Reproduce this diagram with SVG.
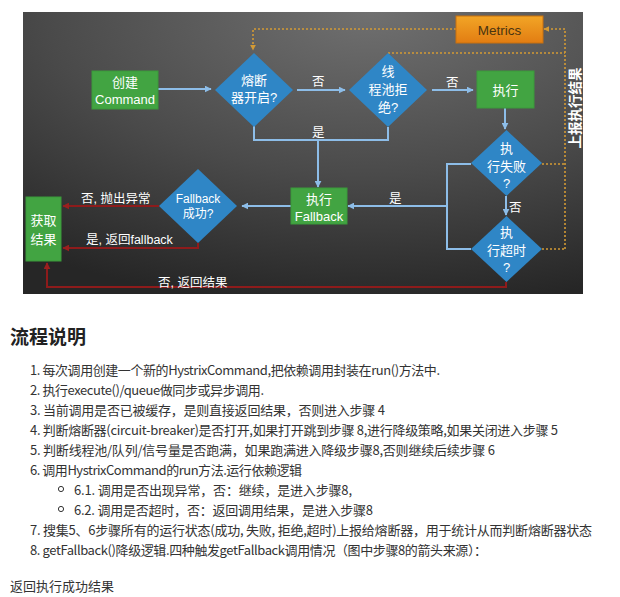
<svg xmlns="http://www.w3.org/2000/svg" width="620" height="597" viewBox="0 0 620 597">
<defs>
<radialGradient id="bg" cx="0.62" cy="0" r="1.05" gradientUnits="objectBoundingBox">
<stop offset="0" stop-color="#707070"/>
<stop offset="0.55" stop-color="#4a4a4a"/>
<stop offset="1" stop-color="#262626"/>
</radialGradient>
<linearGradient id="org" x1="0" y1="0" x2="0" y2="1">
<stop offset="0" stop-color="#f2a526"/>
<stop offset="1" stop-color="#e27d12"/>
</linearGradient>
<marker id="ab" viewBox="0 0 10 10" refX="9" refY="5" markerWidth="7" markerHeight="7" markerUnits="userSpaceOnUse" orient="auto">
<path d="M0,0 L10,5 L0,10 z" fill="#8dbde8"/>
</marker>
<marker id="ar" viewBox="0 0 10 10" refX="9" refY="5" markerWidth="7" markerHeight="7" markerUnits="userSpaceOnUse" orient="auto">
<path d="M0,0 L10,5 L0,10 z" fill="#9a1f1f"/>
</marker>
<marker id="ao" viewBox="0 0 10 10" refX="9" refY="5" markerWidth="6" markerHeight="6" markerUnits="userSpaceOnUse" orient="auto">
<path d="M0,0 L10,5 L0,10 z" fill="#d39a35"/>
</marker>
</defs>
<style>
.g{fill:#42a442;stroke:#3a9a3a;stroke-width:1}
.d{fill:#2f86c6}
.t{font-family:"Liberation Sans","Noto Sans CJK SC",sans-serif;font-size:13px;fill:#ffffff;text-anchor:middle;dominant-baseline:central}
.lb{font-family:"Liberation Sans","Noto Sans CJK SC",sans-serif;font-size:12.5px;fill:#ffffff;dominant-baseline:central}
.bl{fill:none;stroke:#8dbde8;stroke-width:2}
.rd{fill:none;stroke:#8e1b1b;stroke-width:2}
.dt{fill:none;stroke:#d39a35;stroke-width:1.6;stroke-dasharray:2 2}
.b{font-family:"Noto Sans CJK SC",sans-serif;font-size:13px;fill:#333333;dominant-baseline:central}
.h{font-family:"Noto Sans CJK SC",sans-serif;font-size:19px;font-weight:bold;fill:#222222;dominant-baseline:central}
</style>
<rect x="23" y="12" width="560" height="282" fill="url(#bg)"/>
<g id="connectors">
<path class="dt" d="M456,29 H253 V50" marker-end="url(#ao)"/>
<path class="dt" d="M388,53 H565"/>
<path class="dt" d="M542,164 H565 M542,249 H565 M565,249 V29"/>
<path class="dt" d="M565,29 H544" marker-end="url(#ao)"/>
<path class="bl" d="M158,89 H211" marker-end="url(#ab)"/>
<path class="bl" d="M297,90 H345" marker-end="url(#ab)"/>
<path class="bl" d="M432,90 H473" marker-end="url(#ab)"/>
<path class="bl" d="M505,108 V129" marker-end="url(#ab)"/>
<path class="bl" d="M506,196 V215" marker-end="url(#ab)"/>
<path class="bl" d="M254,126 V140 H388 V127"/>
<path class="bl" d="M318,140 V187" marker-end="url(#ab)"/>
<path class="bl" d="M471,164 H447 V249 H471"/>
<path class="bl" d="M447,206 H348" marker-end="url(#ab)"/>
<path class="bl" d="M291,206 H242" marker-end="url(#ab)"/>
<path class="rd" d="M159,206 H63" marker-end="url(#ar)"/>
<path class="rd" d="M198,243 V248 H63" marker-end="url(#ar)"/>
<path class="rd" d="M506,282 V287 H47 V263" marker-end="url(#ar)"/>
<text class="lb" x="312" y="82">否</text>
<text class="lb" x="446" y="83">否</text>
<text class="lb" x="312" y="133">是</text>
<text class="lb" x="389" y="199">是</text>
<text class="lb" x="509" y="208">否</text>
<text class="lb" x="81" y="199">否, 抛出异常</text>
<text class="lb" x="86" y="240">是, 返回fallback</text>
<text class="lb" x="158" y="283">否, 返回结果</text>
<text class="lb" transform="translate(575,108) rotate(-90)" text-anchor="middle" style="font-size:13.5px;font-weight:bold">上报执行结果</text>
</g>
<g id="create">
<rect class="g" x="92" y="71" width="66" height="38"/>
<text class="t" x="125" y="82">创建</text>
<text class="t" x="125" y="99">Command</text>
</g>
<g id="breaker">
<polygon class="d" points="254,53 293,90 254,127 215,90"/>
<text class="t" x="254" y="80">熔断</text>
<text class="t" x="254" y="97">器开启?</text>
</g>
<g id="pool">
<polygon class="d" points="388,53 427,90 388,127 349,90"/>
<text class="t" x="388" y="71">线</text>
<text class="t" x="388" y="89">程池拒</text>
<text class="t" x="388" y="107">绝?</text>
</g>
<g id="metrics">
<rect x="456" y="16" width="87" height="27" fill="url(#org)" stroke="#c8700f" stroke-width="1"/>
<text class="t" x="499.5" y="30" style="fill:#4a3410;font-size:13.5px">Metrics</text>
</g>
<g id="exec">
<rect class="g" x="477" y="71" width="57" height="37"/>
<text class="t" x="505.5" y="90">执行</text>
</g>
<g id="fail">
<polygon class="d" points="506.5,130 542,163 506.5,196 471,163"/>
<text class="t" x="506.5" y="148">执</text>
<text class="t" x="506.5" y="166">行失败</text>
<text class="t" x="506.5" y="183">?</text>
</g>
<g id="timeout">
<polygon class="d" points="506.5,216 542,249 506.5,282 471,249"/>
<text class="t" x="506.5" y="232">执</text>
<text class="t" x="506.5" y="250">行超时</text>
<text class="t" x="506.5" y="267">?</text>
</g>
<g id="fallback">
<rect class="g" x="291" y="188" width="56" height="36"/>
<text class="t" x="319" y="199">执行</text>
<text class="t" x="319" y="216">Fallback</text>
</g>
<g id="fbok">
<polygon class="d" points="198,169 237,206 198,243 159,206"/>
<text class="t" x="198" y="199" style="font-size:12px">Fallback</text>
<text class="t" x="198" y="214" style="font-size:12px">成功?</text>
</g>
<g id="result">
<rect class="g" x="26" y="197" width="35" height="64"/>
<text class="t" x="43.5" y="220">获取</text>
<text class="t" x="43.5" y="239">结果</text>
</g>
<g id="notes">
<text class="h" x="10" y="335">流程说明</text>
<text class="b" x="30" y="369" textLength="410" lengthAdjust="spacing">1. 每次调用创建一个新的HystrixCommand,把依赖调用封装在run()方法中.</text>
<text class="b" x="30" y="389" textLength="234" lengthAdjust="spacing">2. 执行execute()/queue做同步或异步调用.</text>
<text class="b" x="30" y="409" textLength="355" lengthAdjust="spacing">3. 当前调用是否已被缓存，是则直接返回结果，否则进入步骤 4</text>
<text class="b" x="30" y="429" textLength="528" lengthAdjust="spacing">4. 判断熔断器(circuit-breaker)是否打开,如果打开跳到步骤 8,进行降级策略,如果关闭进入步骤 5</text>
<text class="b" x="30" y="449" textLength="465" lengthAdjust="spacing">5. 判断线程池/队列/信号量是否跑满，如果跑满进入降级步骤8,否则继续后续步骤 6</text>
<text class="b" x="30" y="469" textLength="272" lengthAdjust="spacing">6. 调用HystrixCommand的run方法.运行依赖逻辑</text>
<circle cx="61" cy="489" r="2.6" fill="none" stroke="#333333" stroke-width="1"/>
<text class="b" x="74" y="489" textLength="278" lengthAdjust="spacing">6.1. 调用是否出现异常，否：继续，是进入步骤8,</text>
<circle cx="61" cy="509" r="2.6" fill="none" stroke="#333333" stroke-width="1"/>
<text class="b" x="74" y="509" textLength="299" lengthAdjust="spacing">6.2. 调用是否超时，否：返回调用结果，是进入步骤8</text>
<text class="b" x="30" y="529" textLength="562" lengthAdjust="spacing">7. 搜集5、6步骤所有的运行状态(成功, 失败, 拒绝,超时)上报给熔断器，用于统计从而判断熔断器状态</text>
<text class="b" x="30" y="549" textLength="457" lengthAdjust="spacing">8. getFallback()降级逻辑.四种触发getFallback调用情况（图中步骤8的箭头来源）：</text>
<text class="b" x="10" y="585">返回执行成功结果</text>
</g>
</svg>
